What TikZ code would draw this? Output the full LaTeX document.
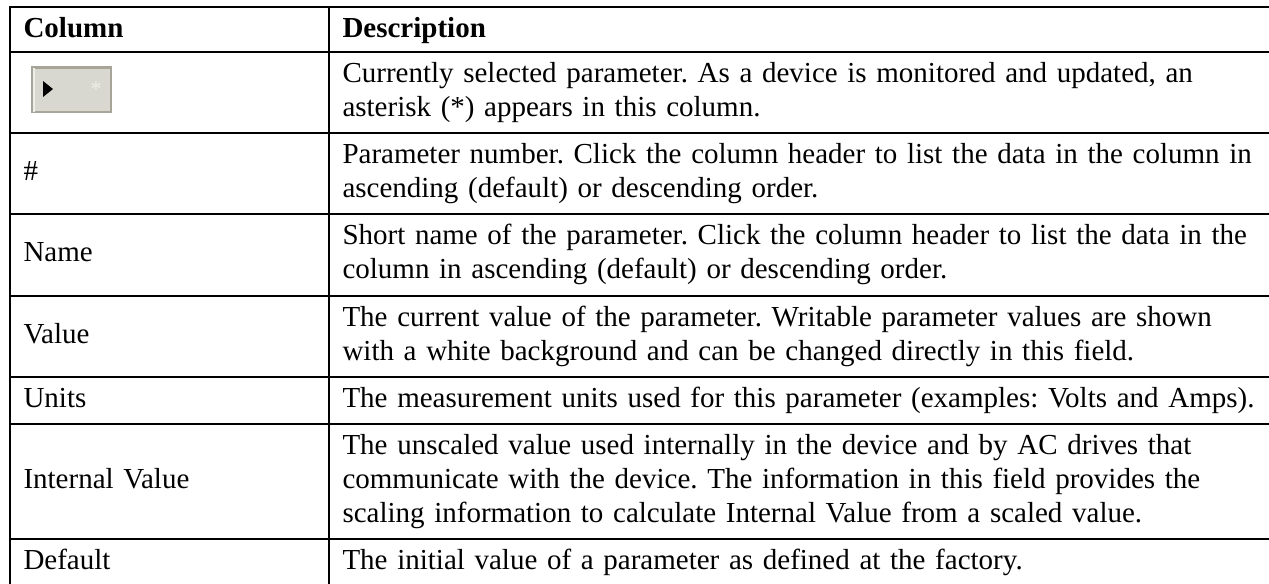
\documentclass[tikz,border=0pt]{standalone}
\usepackage{fontspec}
\setmainfont{Liberation Serif}
\definecolor{btnedge}{HTML}{A6A598}
\definecolor{btnface}{HTML}{D8D8D0}
\definecolor{btnlight}{HTML}{EEEEE8}
\frenchspacing
\begin{document}
\begin{tikzpicture}[x=0.4pt,y=-0.4pt,
  rule/.style={line width=1.15pt, black, line cap=rect},
  cell/.style={anchor=base west, inner sep=0pt, text width=440pt, align=left,
    font=\fontsize{11.6pt}{13.6pt}\selectfont},
  hcell/.style={cell, font=\fontsize{11.6pt}{13.6pt}\selectfont\bfseries}]
\useasboundingbox (0,0) rectangle (1269,583);
% grid
\foreach \y in {7,52,133,214,296,377,424,539}
  \draw[rule] (10,\y) -- (1275,\y);
\draw[rule] (10,7) -- (10,590);
\draw[rule] (329,7) -- (329,590);
% header
\node[hcell] (h1) at (23,37) {Column};
\node[hcell] (h2) at (342,37) {Description};
% row 1 icon
\fill[btnedge] (31,66) rectangle (112,113);
\fill[btnface] (34,69) rectangle (110,111);
\fill[btnlight] (33,68) rectangle (34.5,112);
\fill[black] (43,81) -- (53,89) -- (43,97) -- cycle;
\node[text=btnlight, inner sep=0pt, font=\fontsize{9pt}{9pt}\selectfont] (ast) at (96,89) {*};
\node[cell] (d1) at (342,82) {Currently selected parameter. As a device is monitored and updated, an\\asterisk (*) appears in this column.};
% row 2
\node[cell] (c2) at (23,180) {\#};
\node[cell] (d2) at (342,163) {Parameter number. Click the column header to list the data in the column in\\ascending (default) or descending order.};
% row 3
\node[cell] (c3) at (23,261.5) {Name};
\node[cell] (d3) at (342,244) {Short name of the parameter. Click the column header to list the data in the\\column in ascending (default) or descending order.};
% row 4
\node[cell] (c4) at (23,343) {Value};
\node[cell] (d4) at (342,326) {The current value of the parameter. Writable parameter values are shown\\with a white background and can be changed directly in this field.};
% row 5
\node[cell] (c5) at (23,407) {Units};
\node[cell] (d5) at (342,407) {The measurement units used for this parameter (examples: Volts and Amps).};
% row 6
\node[cell] (c6) at (23,488) {Internal Value};
\node[cell] (d6) at (342,454) {The unscaled value used internally in the device and by AC drives that\\communicate with the device. The information in this field provides the\\scaling information to calculate Internal Value from a scaled value.};
% row 7
\node[cell] (c7) at (23,569) {Default};
\node[cell] (d7) at (342,569) {The initial value of a parameter as defined at the factory.};
\end{tikzpicture}
\end{document}
